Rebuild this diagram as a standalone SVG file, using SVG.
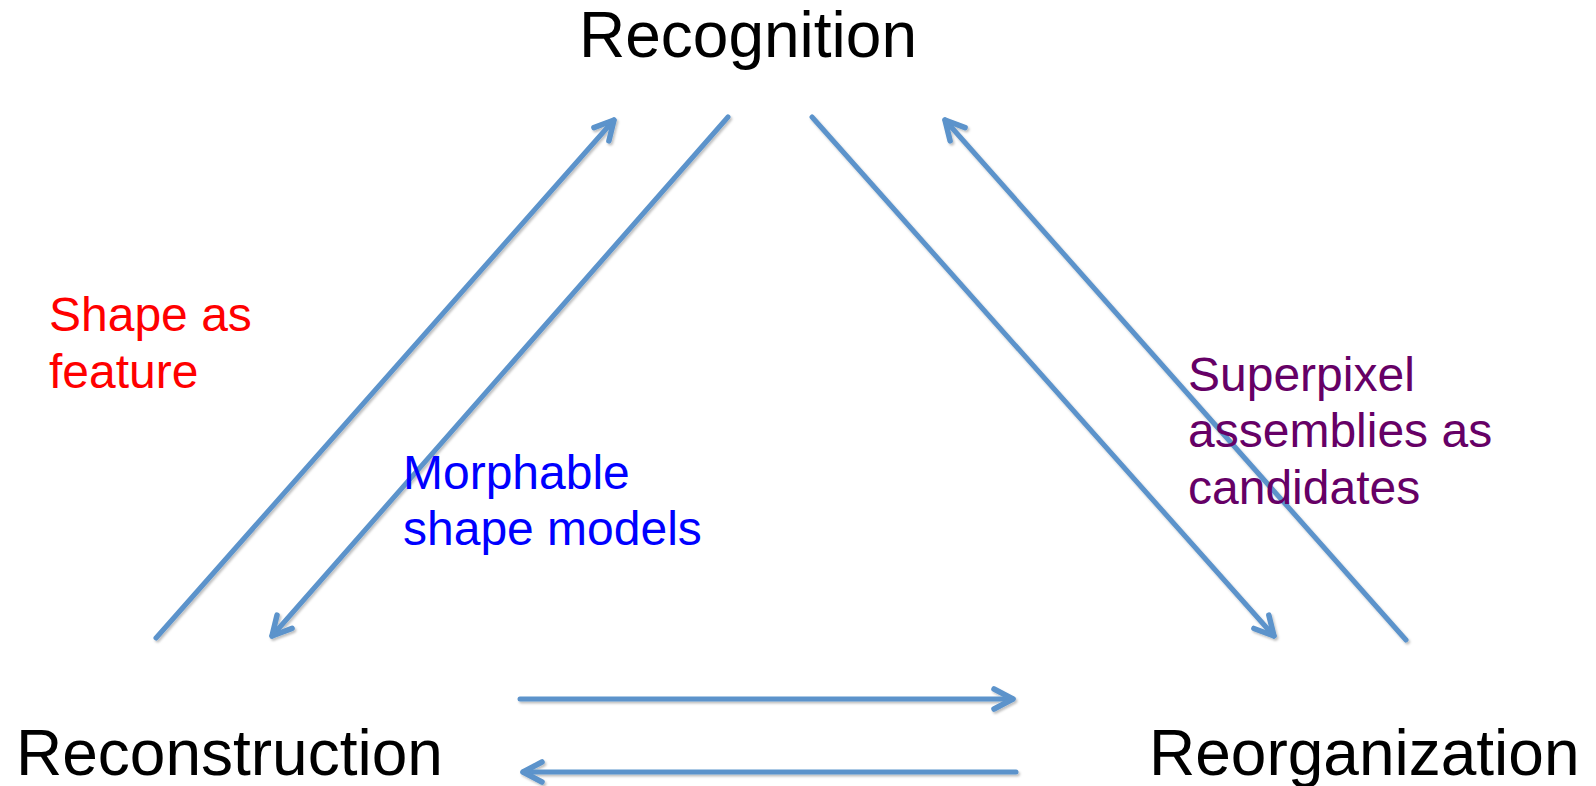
<svg xmlns="http://www.w3.org/2000/svg" width="1596" height="786" viewBox="0 0 1596 786">
  <style>
    .node { font-family: "Liberation Sans", Arial, sans-serif; font-size: 64px; fill: #000; }
    .lbl { font-family: "Liberation Sans", Arial, sans-serif; font-size: 48px; }
    .edge { stroke: #5b93cb; stroke-width: 5; fill: none; stroke-linecap: round; marker-end: url(#head); }
  </style>
  <defs>
    <marker id="head" viewBox="0 0 32 32" refX="26" refY="16" markerWidth="32" markerHeight="32" markerUnits="userSpaceOnUse" orient="auto">
      <path d="M7,6 L26,16 L7,26" fill="none" stroke="#5b93cb" stroke-width="5.5" stroke-linecap="round" stroke-linejoin="round"/>
    </marker>
    <filter id="shadow" x="-5%" y="-5%" width="110%" height="110%">
      <feDropShadow dx="1.5" dy="2" stdDeviation="1.3" flood-color="#000" flood-opacity="0.25"/>
    </filter>
  </defs>

  <g id="recognition"><text class="node" x="748" y="57" text-anchor="middle">Recognition</text></g>
  <g id="reconstruction"><text class="node" x="16" y="775">Reconstruction</text></g>
  <g id="reorganization"><text class="node" x="1149" y="775">Reorganization</text></g>

  <g id="connectors" filter="url(#shadow)">
    <line class="edge" x1="156" y1="638" x2="614" y2="120"/>
    <line class="edge" x1="728" y1="117" x2="272" y2="636"/>
    <line class="edge" x1="812" y1="117" x2="1274" y2="636"/>
    <line class="edge" x1="1406" y1="640" x2="945" y2="120"/>
    <line class="edge" x1="520" y1="699" x2="1013" y2="699"/>
    <line class="edge" x1="1016" y1="772" x2="523" y2="772"/>
  </g>

  <g id="label-shape-feature" class="lbl" fill="#ff0000">
    <text x="49" y="331">Shape as</text>
    <text x="49" y="388">feature</text>
  </g>
  <g id="label-morphable" class="lbl" fill="#0000ff">
    <text x="403" y="489">Morphable</text>
    <text x="403" y="545">shape models</text>
  </g>
  <g id="label-superpixel" class="lbl" fill="#660066">
    <text x="1188" y="391">Superpixel</text>
    <text x="1188" y="447">assemblies as</text>
    <text x="1188" y="504">candidates</text>
  </g>
</svg>
